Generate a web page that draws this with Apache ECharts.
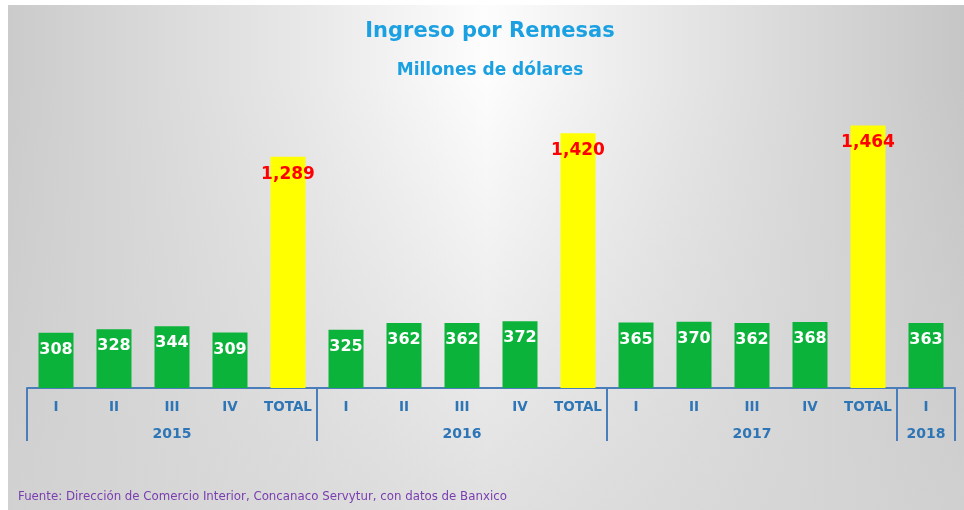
<!DOCTYPE html>
<html>
<head>
<meta charset="utf-8">
<script src="https://cdn.jsdelivr.net/npm/echarts@6/dist/echarts.min.js"></script>
<style>
  html, body { margin: 0; padding: 0; background: #ffffff; }
  #chart { width: 964px; height: 510px; }
</style>
</head>
<body>
<div id="chart"></div>
<script>
// categorías (trimestres) y valores en millones de dólares
const quarters = ['I', 'II', 'III', 'IV', 'TOTAL', 'I', 'II', 'III', 'IV', 'TOTAL', 'I', 'II', 'III', 'IV', 'TOTAL', 'I'];
const values = [308, 328, 344, 309, 1289, 325, 362, 362, 372, 1420, 365, 370, 362, 368, 1464, 363];
const years = ['2015', '2016', '2017', '2018'];
// posiciones de los años (centro del grupo) y separadores en unidades de categoría
const yearCenters = [2.5, 7.5, 12.5, 15.5];
const yearBounds = [0, 5, 10, 15, 16];

const blue = '#4a7ebb';
const font = 'DejaVu Sans';

const chart = echarts.init(document.getElementById('chart'));

const barData = values.map((v, i) => {
  const isTotal = quarters[i] === 'TOTAL';
  return {
    value: v,
    itemStyle: { color: isTotal ? '#ffff00' : '#0cb33a' },
    label: {
      color: isTotal ? '#ff0000' : '#ffffff',
      fontSize: isTotal ? 17 : 16,
      distance: isTotal ? 9 : 9
    }
  };
});

chart.setOption({
  animation: false,
  graphic: [
    // fondo gris con centro claro
    {
      type: 'rect',
      z: -100,
      shape: { x: 8, y: 5, width: 956, height: 505 },
      style: {
        fill: {
          type: 'linear', x: 0, y: 0, x2: 1, y2: 0,
          colorStops: [
            { offset: 0, color: '#cbcbcb' },
            { offset: 0.3, color: '#e7e7e7' },
            { offset: 0.5, color: '#fdfdfd' },
            { offset: 0.7, color: '#e6e6e6' },
            { offset: 1, color: '#c6c6c6' }
          ]
        }
      }
    },
    {
      type: 'rect',
      z: -99,
      shape: { x: 8, y: 5, width: 956, height: 505 },
      style: {
        fill: {
          type: 'linear', x: 0, y: 0, x2: 0, y2: 1,
          colorStops: [
            { offset: 0, color: 'rgba(212,212,212,0)' },
            { offset: 0.15, color: 'rgba(212,212,212,0)' },
            { offset: 1, color: 'rgba(212,212,212,0.7)' }
          ]
        }
      }
    },
    {
      type: 'text', x: 490, y: 32,
      style: { text: 'Ingreso por Remesas', fill: '#1ba1e2', font: 'bold 21px ' + font, textAlign: 'center', textVerticalAlign: 'middle' }
    },
    {
      type: 'text', x: 490, y: 71,
      style: { text: 'Millones de dólares', fill: '#1ba1e2', font: 'bold 17px ' + font, textAlign: 'center', textVerticalAlign: 'middle' }
    },
    {
      type: 'text', x: 18, y: 497,
      style: { text: 'Fuente: Dirección de Comercio Interior, Concanaco Servytur, con datos de Banxico', fill: '#7a3db0', font: '11.8px ' + font, textAlign: 'left', textVerticalAlign: 'middle' }
    }
  ],
  grid: { left: 27, right: 9, top: 101, bottom: 122 },
  xAxis: [
    {
      type: 'category',
      data: quarters,
      axisLine: { lineStyle: { color: blue, width: 2 } },
      axisTick: { show: false },
      axisLabel: { color: '#2e75b6', fontWeight: 'bold', fontSize: 13.5, fontFamily: font, margin: 12, interval: 0 }
    },
    {
      type: 'value',
      min: 0,
      max: 16,
      position: 'bottom',
      axisLine: { show: false },
      splitLine: { show: false },
      axisTick: { show: true, customValues: yearBounds, length: 53, lineStyle: { color: blue, width: 2 } },
      axisLabel: {
        customValues: yearCenters,
        formatter: (v) => years[yearCenters.indexOf(v)],
        color: '#2e75b6', fontWeight: 'bold', fontSize: 14, fontFamily: font, margin: 39
      }
    }
  ],
  yAxis: { type: 'value', min: 0, max: 1600, show: false },
  series: [
    {
      type: 'bar',
      barWidth: 35,
      data: barData,
      label: {
        show: true,
        position: 'insideTop',
        fontWeight: 'bold',
        fontFamily: font,
        formatter: (p) => p.value.toLocaleString('en-US')
      }
    }
  ]
});
</script>
</body>
</html>
